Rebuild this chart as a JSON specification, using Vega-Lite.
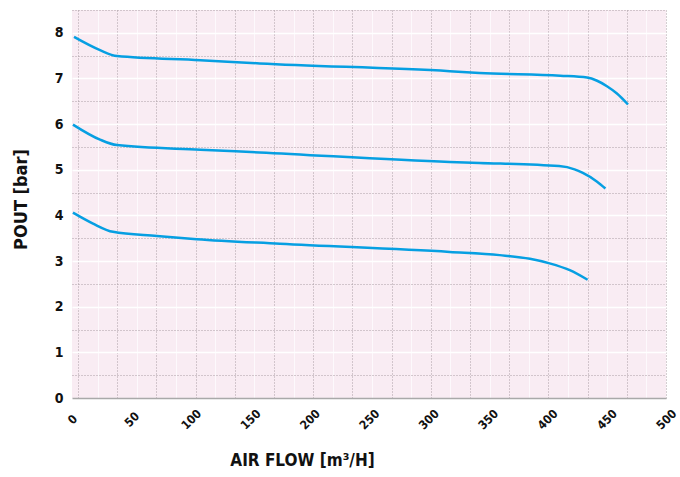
{
  "$schema": "https://vega.github.io/schema/vega-lite/v6.json",
  "description": "Air flow vs output pressure curves",
  "autosize": {"type": "none"},
  "padding": {"left": 72, "top": 10, "right": 14, "bottom": 79},
  "width": 594,
  "height": 388,
  "background": "#ffffff",
  "data": {
    "values": [
      {"curve": "A", "flow": 1.7, "pout": 7.91},
      {"curve": "A", "flow": 23.6, "pout": 7.62},
      {"curve": "A", "flow": 37.9, "pout": 7.49},
      {"curve": "A", "flow": 108, "pout": 7.4},
      {"curve": "A", "flow": 158, "pout": 7.33},
      {"curve": "A", "flow": 318, "pout": 7.16},
      {"curve": "A", "flow": 343, "pout": 7.12},
      {"curve": "A", "flow": 411, "pout": 7.06},
      {"curve": "A", "flow": 433.5, "pout": 7.02},
      {"curve": "A", "flow": 442, "pout": 6.95},
      {"curve": "A", "flow": 450.3, "pout": 6.83},
      {"curve": "A", "flow": 458.7, "pout": 6.67},
      {"curve": "A", "flow": 468, "pout": 6.43},
      {"curve": "B", "flow": 0.8, "pout": 5.99},
      {"curve": "B", "flow": 23.6, "pout": 5.66},
      {"curve": "B", "flow": 37.9, "pout": 5.54},
      {"curve": "B", "flow": 108, "pout": 5.44},
      {"curve": "B", "flow": 158, "pout": 5.38},
      {"curve": "B", "flow": 318, "pout": 5.17},
      {"curve": "B", "flow": 343, "pout": 5.15},
      {"curve": "B", "flow": 410, "pout": 5.08},
      {"curve": "B", "flow": 423, "pout": 5.01},
      {"curve": "B", "flow": 430, "pout": 4.93},
      {"curve": "B", "flow": 442, "pout": 4.74},
      {"curve": "B", "flow": 449, "pout": 4.59},
      {"curve": "C", "flow": 0.8, "pout": 4.06},
      {"curve": "C", "flow": 17.7, "pout": 3.82},
      {"curve": "C", "flow": 34.5, "pout": 3.64},
      {"curve": "C", "flow": 71.5, "pout": 3.55},
      {"curve": "C", "flow": 105, "pout": 3.48},
      {"curve": "C", "flow": 175, "pout": 3.38},
      {"curve": "C", "flow": 318, "pout": 3.2},
      {"curve": "C", "flow": 360, "pout": 3.13},
      {"curve": "C", "flow": 385.5, "pout": 3.05},
      {"curve": "C", "flow": 402, "pout": 2.95},
      {"curve": "C", "flow": 419, "pout": 2.8},
      {"curve": "C", "flow": 434, "pout": 2.59}
    ]
  },
  "layer": [
    {
      "mark": {"type": "line", "strokeOpacity": 0},
      "encoding": {
        "x": {
          "field": "flow",
          "type": "quantitative",
          "scale": {"domain": [0, 500], "nice": false, "zero": false},
          "axis": {
            "orient": "bottom",
            "values": [21.5, 54.5, 87.5, 120.5, 153.5, 186.5, 219.5, 252.5, 285.5, 318.5, 351.5, 384.5, 417.5, 450.5, 483.5],
            "grid": true, "gridColor": "#ffffff", "gridWidth": 1, "gridOpacity": 0.7,
            "labels": false, "ticks": false, "domain": false, "title": null
          }
        },
        "y": {
          "field": "pout",
          "type": "quantitative",
          "scale": {"domain": [0, 8.5], "nice": false, "zero": false},
          "axis": {
            "orient": "left",
            "values": [1, 2, 3, 4, 5, 6, 7, 8],
            "grid": true, "gridColor": "#ffffff", "gridWidth": 1.6,
            "labels": false, "ticks": false, "domain": false, "title": null
          }
        },
        "detail": {"field": "curve"}
      }
    },
    {
      "mark": {"type": "line", "strokeOpacity": 0},
      "encoding": {
        "x": {
          "field": "flow",
          "type": "quantitative",
          "axis": {
            "orient": "bottom",
            "values": [5, 38, 71, 104, 137, 170, 203, 236, 269, 302, 335, 368, 401, 434, 467, 500],
            "grid": true, "gridColor": "#aa9ea4", "gridWidth": 1, "gridDash": [1, 2],
            "labels": false, "ticks": false, "domain": false, "title": null
          }
        },
        "y": {
          "field": "pout",
          "type": "quantitative",
          "axis": {
            "orient": "left",
            "values": [0.5, 1.5, 2.5, 3.5, 4.5, 5.5, 6.5, 7.5, 8.5],
            "grid": true, "gridColor": "#aa9ea4", "gridWidth": 1, "gridDash": [1, 2],
            "labels": false, "ticks": false, "domain": false, "title": null
          }
        },
        "detail": {"field": "curve"}
      }
    },
    {
      "mark": {"type": "line", "interpolate": "monotone", "color": "#069fe2", "strokeWidth": 2.5},
      "encoding": {
        "x": {
          "field": "flow",
          "type": "quantitative",
          "axis": {
            "orient": "bottom",
            "values": [0, 50, 100, 150, 200, 250, 300, 350, 400, 450, 500],
            "grid": false, "ticks": false, "tickSize": 0,
            "domain": true, "domainColor": "#a9a9a9", "domainWidth": 1.5,
            "labelAngle": -45, "labelAlign": "center", "labelBaseline": "middle",
            "labelPadding": 21, "labelFontSize": 12, "labelFontWeight": "bold",
            "labelColor": "#111111", "labelOverlap": false,
            "title": "AIR FLOW [m³/H]",
            "titleX": 230, "titleY": 62, "titleAlign": "center", "titleBaseline": "middle",
            "titleFontSize": 17, "titleFontWeight": "bold", "titleColor": "#111111"
          }
        },
        "y": {
          "field": "pout",
          "type": "quantitative",
          "axis": {
            "orient": "left",
            "values": [0, 1, 2, 3, 4, 5, 6, 7, 8],
            "grid": false, "ticks": false, "tickSize": 0, "domain": false,
            "labelPadding": 9, "labelFontSize": 14, "labelFontWeight": "bold",
            "labelColor": "#111111",
            "title": "POUT [bar]",
            "titleX": -51, "titleY": 189, "titleAngle": -90, "titleAlign": "center", "titleBaseline": "middle",
            "titleFontSize": 18, "titleFontWeight": "bold", "titleColor": "#111111"
          }
        },
        "detail": {"field": "curve"}
      }
    }
  ],
  "resolve": {"axis": {"x": "independent", "y": "independent"}},
  "config": {
    "font": "DejaVu Sans Condensed, sans-serif",
    "view": {"fill": "#f9ecf3", "stroke": null}
  }
}
